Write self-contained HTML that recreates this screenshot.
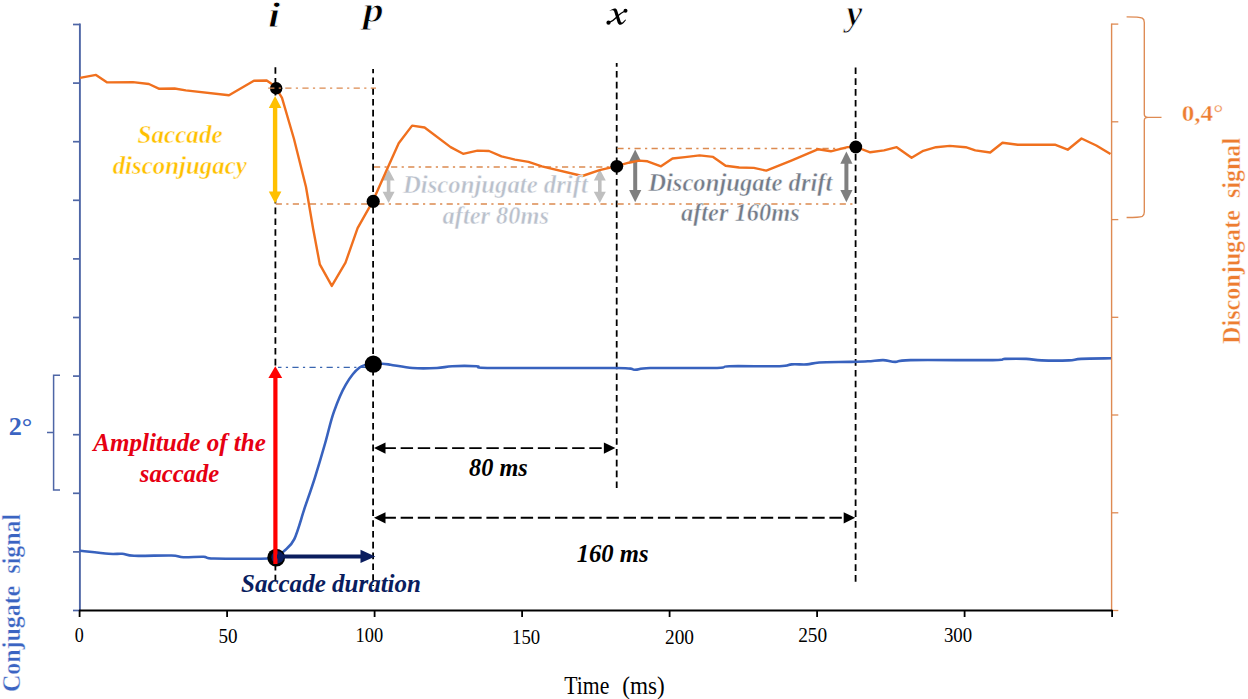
<!DOCTYPE html>
<html><head><meta charset="utf-8"><title>Saccade disconjugacy</title>
<style>
html,body{margin:0;padding:0;background:#fff;}
body{width:1248px;height:699px;overflow:hidden;}
svg{display:block;}
text{font-family:"Liberation Serif",serif;fill:#000;}
.r{font-weight:normal;font-style:normal;}
.bn{font-weight:bold;font-style:normal;stroke:#fff;stroke-width:0.4px;}
.b{font-weight:bold;font-style:normal;}
.bi{font-weight:bold;font-style:italic;}
.bt{font-weight:bold;font-style:italic;stroke:#fff;stroke-width:0.45px;}
.bq{font-weight:bold;font-style:italic;stroke:#fff;stroke-width:0.8px;}
</style></head>
<body>
<svg width="1248" height="699" viewBox="0 0 1248 699">
<rect width="1248" height="699" fill="#fff"/>
<line x1="79.9" y1="23.6" x2="79.9" y2="610.5" stroke="#4E66A6" stroke-width="1.9"/>
<line x1="73" y1="24.5" x2="80" y2="24.5" stroke="#4E66A6" stroke-width="1.7"/>
<line x1="73" y1="83.1" x2="80" y2="83.1" stroke="#4E66A6" stroke-width="1.7"/>
<line x1="73" y1="141.7" x2="80" y2="141.7" stroke="#4E66A6" stroke-width="1.7"/>
<line x1="73" y1="200.3" x2="80" y2="200.3" stroke="#4E66A6" stroke-width="1.7"/>
<line x1="73" y1="258.9" x2="80" y2="258.9" stroke="#4E66A6" stroke-width="1.7"/>
<line x1="73" y1="317.5" x2="80" y2="317.5" stroke="#4E66A6" stroke-width="1.7"/>
<line x1="73" y1="376.1" x2="80" y2="376.1" stroke="#4E66A6" stroke-width="1.7"/>
<line x1="73" y1="434.7" x2="80" y2="434.7" stroke="#4E66A6" stroke-width="1.7"/>
<line x1="73" y1="493.3" x2="80" y2="493.3" stroke="#4E66A6" stroke-width="1.7"/>
<line x1="73" y1="551.9" x2="80" y2="551.9" stroke="#4E66A6" stroke-width="1.7"/>
<line x1="73" y1="610.5" x2="80" y2="610.5" stroke="#4E66A6" stroke-width="1.7"/>
<line x1="1111.6" y1="23.5" x2="1111.6" y2="610.5" stroke="#DE8A52" stroke-width="1.4"/>
<line x1="1111.6" y1="24.1" x2="1118.3" y2="24.1" stroke="#DE8A52" stroke-width="1.3"/>
<line x1="1111.6" y1="121.8" x2="1118.3" y2="121.8" stroke="#DE8A52" stroke-width="1.3"/>
<line x1="1111.6" y1="219.6" x2="1118.3" y2="219.6" stroke="#DE8A52" stroke-width="1.3"/>
<line x1="1111.6" y1="317.3" x2="1118.3" y2="317.3" stroke="#DE8A52" stroke-width="1.3"/>
<line x1="1111.6" y1="415.0" x2="1118.3" y2="415.0" stroke="#DE8A52" stroke-width="1.3"/>
<line x1="1111.6" y1="512.8" x2="1118.3" y2="512.8" stroke="#DE8A52" stroke-width="1.3"/>
<line x1="1111.6" y1="610.5" x2="1118.3" y2="610.5" stroke="#DE8A52" stroke-width="1.3"/>
<line x1="79" y1="610.6" x2="1112.5" y2="610.6" stroke="#000" stroke-width="2"/>
<line x1="79.6" y1="610" x2="79.6" y2="617" stroke="#000" stroke-width="1.8"/>
<line x1="227.1" y1="610" x2="227.1" y2="617" stroke="#000" stroke-width="1.8"/>
<line x1="374.6" y1="610" x2="374.6" y2="617" stroke="#000" stroke-width="1.8"/>
<line x1="522.1" y1="610" x2="522.1" y2="617" stroke="#000" stroke-width="1.8"/>
<line x1="669.6" y1="610" x2="669.6" y2="617" stroke="#000" stroke-width="1.8"/>
<line x1="817.1" y1="610" x2="817.1" y2="617" stroke="#000" stroke-width="1.8"/>
<line x1="964.6" y1="610" x2="964.6" y2="617" stroke="#000" stroke-width="1.8"/>
<line x1="1112.1" y1="610" x2="1112.1" y2="617" stroke="#000" stroke-width="1.8"/>
<path d="M60,375.3 H53.6 V490 H60 M53.6,432.6 H47" fill="none" stroke="#4E66A6" stroke-width="1.5"/>
<text transform="translate(20.3,602.9) rotate(-90)" x="0" y="0" font-size="25" text-anchor="middle" class="bn" style="fill:#3B64C2" xml:space="preserve" textLength="178.3" lengthAdjust="spacingAndGlyphs">Conjugate  signal</text>
<path d="M1126.6,16.9 Q1139.5,16.9 1142.3,18.2 Q1144.3,19.3 1144.3,22.5 V114.2 Q1144.3,117.3 1148,117.3 H1161.5 M1148,117.3 Q1144.3,117.3 1144.3,120.4 V212 Q1144.3,215.3 1142.3,216.3 Q1139.5,217.5 1126.6,217.5" fill="none" stroke="#DE8A52" stroke-width="1.35"/>
<text transform="translate(1240.2,240.9) rotate(-90)" x="0" y="0" font-size="25" text-anchor="middle" class="bn" style="fill:#ED7D31" xml:space="preserve" textLength="206" lengthAdjust="spacingAndGlyphs">Disconjugate  signal</text>
<line x1="275.4" y1="67.2" x2="275.4" y2="582" stroke="#000" stroke-width="1.8" stroke-dasharray="6.6 4.2" stroke-dashoffset="0"/>
<line x1="373.1" y1="68.9" x2="373.1" y2="586" stroke="#000" stroke-width="1.8" stroke-dasharray="6.6 4.2" stroke-dashoffset="2.3"/>
<line x1="616.7" y1="63.1" x2="616.7" y2="490.5" stroke="#000" stroke-width="1.8" stroke-dasharray="6.6 4.2" stroke-dashoffset="2.9"/>
<line x1="855.6" y1="67.5" x2="855.6" y2="585.5" stroke="#000" stroke-width="1.8" stroke-dasharray="6.6 4.2" stroke-dashoffset="0"/>
<line x1="274" y1="204.0" x2="852.5" y2="204.0" stroke="#DC8A50" stroke-width="1.35" stroke-dasharray="6.2 4.35 2.2 4.34" stroke-dashoffset="15.38"/>
<line x1="374" y1="167.0" x2="616" y2="167.0" stroke="#DC8A50" stroke-width="1.35" stroke-dasharray="6.2 4.35 2.2 4.34"/>
<line x1="617.4" y1="148.5" x2="855" y2="148.5" stroke="#DC8A50" stroke-width="1.35" stroke-dasharray="6.2 4.35 2.2 4.34"/>
<line x1="278" y1="367.4" x2="371" y2="367.4" stroke="#3A66B0" stroke-width="1.4" stroke-dasharray="6.2 4.35 2.2 4.34" stroke-dashoffset="2.7"/>
<line x1="388.6" y1="179.5" x2="388.6" y2="192.8" stroke="#BFBFBF" stroke-width="3.6"/><polygon points="388.6,169.3 382.6,180.5 394.6,180.5" fill="#BFBFBF"/><polygon points="388.6,203 382.6,191.8 394.6,191.8" fill="#BFBFBF"/>
<line x1="599.8" y1="179.5" x2="599.8" y2="192.8" stroke="#BFBFBF" stroke-width="3.6"/><polygon points="599.8,169.3 593.8,180.5 605.8,180.5" fill="#BFBFBF"/><polygon points="599.8,203 593.8,191.8 605.8,191.8" fill="#BFBFBF"/>
<line x1="635.2" y1="160.8" x2="635.2" y2="191.0" stroke="#7F7F7F" stroke-width="4"/><polygon points="635.2,149.5 629.1,161.8 641.3000000000001,161.8" fill="#7F7F7F"/><polygon points="635.2,202.3 629.1,190.0 641.3000000000001,190.0" fill="#7F7F7F"/>
<line x1="846.4" y1="162.8" x2="846.4" y2="191.0" stroke="#7F7F7F" stroke-width="4"/><polygon points="846.4,151.5 840.3,163.8 852.5,163.8" fill="#7F7F7F"/><polygon points="846.4,202.3 840.3,190.0 852.5,190.0" fill="#7F7F7F"/>
<polyline points="80.0,77.9 96.0,74.9 107.2,82.4 132.9,82.1 148.9,84.0 159.3,88.8 174.6,88.5 185.8,90.4 229.0,95.3 253.9,80.8 266.7,80.5 274.7,86.0 282.0,97.8 294.0,139.0 306.0,187.0 313.0,228.0 319.8,264.3 331.8,285.9 345.5,262.6 357.6,228.2 373.0,200.8 386.7,169.9 398.7,143.3 412.1,125.6 424.6,127.5 450.6,147.1 463.1,153.8 477.5,150.6 489.0,151.0 501.5,156.3 515.0,159.6 528.5,161.9 541.9,166.3 582.3,176.0 599.6,170.2 616.6,166.1 628.8,162.7 639.2,160.6 647.5,161.3 661.0,166.3 672.5,158.5 685.0,157.1 699.6,155.4 713.1,156.9 725.6,165.8 739.2,167.5 753.8,167.9 766.3,170.6 791.3,160.6 818.3,149.2 830.8,151.3 847.5,147.1 856.0,147.0 870.2,152.3 884.0,150.4 896.7,147.2 911.6,157.8 923.3,150.8 936.0,147.2 949.8,145.9 965.7,147.2 975.3,150.4 990.2,152.5 1002.5,142.7 1017.8,144.8 1054.9,144.6 1067.7,149.7 1081.5,138.5 1096.3,145.5 1110.5,154.0" fill="none" stroke="#F0701E" stroke-width="2.4" stroke-linejoin="round"/>
<path d="M80.0,550.7 C84.8,551.2 101.6,553.3 108.6,553.8 C115.6,554.3 118.0,553.5 122.2,553.8 C126.4,554.1 125.8,555.5 134.0,555.8 C142.2,556.1 163.2,555.3 171.4,555.5 C179.6,555.7 177.9,557.0 183.3,557.2 C188.7,557.4 198.6,556.6 203.7,556.8 C208.8,557.0 203.2,558.2 213.9,558.5 C224.7,558.8 257.8,558.7 268.2,558.5 C278.6,558.3 273.4,558.7 276.0,557.5 C278.6,556.3 280.9,554.3 284.0,551.2 C287.1,548.1 290.9,546.3 294.3,539.1 C297.7,531.9 301.2,518.5 304.6,508.2 C308.1,497.9 311.6,488.2 315.0,477.3 C318.4,466.4 322.1,453.9 325.2,443.0 C328.3,432.1 330.4,421.8 333.8,412.1 C337.2,402.4 341.5,392.0 345.8,384.6 C350.1,377.2 355.0,370.9 359.6,367.5 C364.2,364.1 369.5,364.6 373.3,364.0 C377.1,363.4 379.3,363.7 382.2,363.8 C385.1,363.9 385.4,364.0 390.5,364.7 C395.6,365.4 404.9,367.4 412.6,368.0 C420.4,368.6 430.4,368.3 437.0,368.0 C443.6,367.7 445.6,366.5 452.2,366.2 C458.8,365.9 470.0,365.9 476.6,366.2 C483.2,366.5 468.5,367.7 491.8,368.0 C515.1,368.3 592.8,367.7 616.6,368.0 C640.5,368.3 629.3,369.8 634.9,369.8 C640.5,369.8 636.4,368.3 650.1,368.0 C663.8,367.7 703.9,368.3 717.1,368.0 C730.3,367.7 718.9,366.5 729.3,366.2 C739.7,365.9 769.2,366.5 779.6,366.2 C790.0,365.9 787.2,364.7 791.8,364.4 C796.4,364.1 802.4,364.7 807.0,364.4 C811.6,364.1 812.1,362.9 819.2,362.5 C826.3,362.1 841.5,362.1 849.6,361.9 C857.7,361.7 862.3,361.6 867.9,361.3 C873.5,361.0 878.5,360.0 883.1,360.1 C887.7,360.2 890.7,361.9 895.3,361.9 C899.9,361.9 894.3,360.4 910.5,360.1 C926.7,359.8 977.0,360.3 992.7,360.1 C1008.4,359.9 999.3,359.1 1004.9,358.9 C1010.5,358.7 1020.1,358.6 1026.2,358.9 C1032.3,359.1 1034.4,360.1 1041.5,360.4 C1048.6,360.6 1062.3,360.6 1068.9,360.4 C1075.5,360.1 1074.0,359.2 1081.0,358.9 C1088.0,358.5 1106.0,358.4 1111.0,358.3" fill="none" stroke="#3862BE" stroke-width="2.6" stroke-linejoin="round"/>
<line x1="275.1" y1="107.0" x2="275.1" y2="192.4" stroke="#FFC000" stroke-width="4.4"/><polygon points="275.1,96.0 268.8,108.0 281.40000000000003,108.0" fill="#FFC000"/><polygon points="275.1,203.4 268.8,191.4 281.40000000000003,191.4" fill="#FFC000"/>
<line x1="383.5" y1="448.1" x2="604.9" y2="448.1" stroke="#000" stroke-width="1.9" stroke-dasharray="12.4 4.75"/><polygon points="374,448.1 385.5,442.5 385.5,453.70000000000005" fill="#000"/><polygon points="615.4,448.1 603.9,442.5 603.9,453.70000000000005" fill="#000"/>
<line x1="383.5" y1="517.8" x2="844.7" y2="517.8" stroke="#000" stroke-width="1.9" stroke-dasharray="12.4 4.75"/><polygon points="374,517.8 385.5,512.1999999999999 385.5,523.4" fill="#000"/><polygon points="855.2,517.8 843.7,512.1999999999999 843.7,523.4" fill="#000"/>
<circle cx="276.2" cy="88.3" r="6.2" fill="#000"/>
<circle cx="373.2" cy="201.4" r="6.6" fill="#000"/>
<circle cx="616.8" cy="166.3" r="6.4" fill="#000"/>
<circle cx="855.8" cy="147" r="6.4" fill="#000"/>
<circle cx="373.3" cy="364.2" r="8.6" fill="#000"/>
<circle cx="276.2" cy="557.6" r="8.9" fill="#000"/>
<circle cx="277.6" cy="557.2" r="6.2" fill="#0A1D5E"/>
<line x1="268.2" y1="88.1" x2="376" y2="88.1" stroke="#DC8A50" stroke-width="1.35" stroke-dasharray="6.2 4.35 2.2 4.34"/>
<line x1="275.4" y1="377" x2="275.4" y2="564" stroke="#FF0000" stroke-width="4.2"/>
<polygon points="275.3,366.3 268.4,378 282.2,378" fill="#FF0000"/>
<line x1="277" y1="556.4" x2="362" y2="556.4" stroke="#0A1D5E" stroke-width="4"/>
<polygon points="375.3,556.4 360.5,549.8 360.5,563" fill="#0A1D5E"/>
<text id="k0" x="79.20" y="642.4" font-size="20.6" text-anchor="middle" class="r" style="fill:#000" xml:space="preserve" textLength="9.00" lengthAdjust="spacingAndGlyphs">0</text>
<text id="k50" x="228.10" y="642.5" font-size="20.6" text-anchor="middle" class="r" style="fill:#000" xml:space="preserve" textLength="19.09" lengthAdjust="spacingAndGlyphs">50</text>
<text id="k100" x="369.40" y="642.4" font-size="20.6" text-anchor="middle" class="r" style="fill:#000" xml:space="preserve" textLength="27.59" lengthAdjust="spacingAndGlyphs">100</text>
<text id="k150" x="526.10" y="643.9" font-size="20.6" text-anchor="middle" class="r" style="fill:#000" xml:space="preserve" textLength="28.09" lengthAdjust="spacingAndGlyphs">150</text>
<text id="k200" x="679.50" y="643.9" font-size="20.6" text-anchor="middle" class="r" style="fill:#000" xml:space="preserve" textLength="28.99" lengthAdjust="spacingAndGlyphs">200</text>
<text id="k250" x="812.70" y="642.4" font-size="20.6" text-anchor="middle" class="r" style="fill:#000" xml:space="preserve" textLength="28.99" lengthAdjust="spacingAndGlyphs">250</text>
<text id="k300" x="958.00" y="642.4" font-size="20.6" text-anchor="middle" class="r" style="fill:#000" xml:space="preserve" textLength="28.19" lengthAdjust="spacingAndGlyphs">300</text>
<text id="t_i" x="274.20" y="26.5" font-size="36" text-anchor="middle" class="bq" style="fill:#000" xml:space="preserve" textLength="12.22" lengthAdjust="spacingAndGlyphs">i</text>
<text id="t_p" x="373.20" y="22.0" font-size="36" text-anchor="middle" class="bq" style="fill:#000" xml:space="preserve" textLength="20.60" lengthAdjust="spacingAndGlyphs">p</text>
<text id="t_y" x="854.40" y="25.2" font-size="36" text-anchor="middle" class="bq" style="fill:#000" xml:space="preserve" textLength="15.78" lengthAdjust="spacingAndGlyphs">y</text>
<text id="sac1" x="180.10" y="142.7" font-size="25" text-anchor="middle" class="bt" style="fill:#FFC000" xml:space="preserve" textLength="85.10" lengthAdjust="spacingAndGlyphs">Saccade</text>
<text id="sac2" x="179.70" y="174.0" font-size="25" text-anchor="middle" class="bt" style="fill:#FFC000" xml:space="preserve" textLength="134.12" lengthAdjust="spacingAndGlyphs">disconjugacy</text>
<text id="dl1" x="495.40" y="193.0" font-size="24.5" text-anchor="middle" class="bt" style="fill:#B9C0CB" xml:space="preserve" textLength="184.99" lengthAdjust="spacingAndGlyphs">Disconjugate drift</text>
<text id="dl2" x="495.80" y="224.1" font-size="24.5" text-anchor="middle" class="bt" style="fill:#B9C0CB" xml:space="preserve" textLength="106.44" lengthAdjust="spacingAndGlyphs">after 80ms</text>
<text id="dd1" x="740.30" y="190.5" font-size="24.5" text-anchor="middle" class="bt" style="fill:#737B88" xml:space="preserve" textLength="184.29" lengthAdjust="spacingAndGlyphs">Disconjugate drift</text>
<text id="dd2" x="740.30" y="221.1" font-size="24.5" text-anchor="middle" class="bt" style="fill:#737B88" xml:space="preserve" textLength="118.69" lengthAdjust="spacingAndGlyphs">after 160ms</text>
<text id="am1" x="179.50" y="451.3" font-size="25" text-anchor="middle" class="bi" style="fill:#E60012" xml:space="preserve" textLength="172.53" lengthAdjust="spacingAndGlyphs">Amplitude of the</text>
<text id="am2" x="179.50" y="482.2" font-size="25" text-anchor="middle" class="bi" style="fill:#E60012" xml:space="preserve" textLength="79.43" lengthAdjust="spacingAndGlyphs">saccade</text>
<text id="sd" x="331.00" y="592.4" font-size="25" text-anchor="middle" class="bi" style="fill:#0A1D5E" xml:space="preserve" textLength="179.97" lengthAdjust="spacingAndGlyphs">Saccade duration</text>
<text id="m80" x="498.40" y="476.4" font-size="24.5" text-anchor="middle" class="bi" style="fill:#000" xml:space="preserve" textLength="58.62" lengthAdjust="spacingAndGlyphs">80 ms</text>
<text id="m160" x="612.60" y="561.5" font-size="24.5" text-anchor="middle" class="bi" style="fill:#000" xml:space="preserve" textLength="71.87" lengthAdjust="spacingAndGlyphs">160 ms</text>
<text id="time1" x="586.80" y="693.8" font-size="25.5" text-anchor="middle" class="r" style="fill:#000" xml:space="preserve" textLength="45.02" lengthAdjust="spacingAndGlyphs">Time</text>
<text id="time2" x="643.50" y="693.8" font-size="25.5" text-anchor="middle" class="r" style="fill:#000" xml:space="preserve" textLength="42.45" lengthAdjust="spacingAndGlyphs">(ms)</text>
<text id="deg04" x="1202.50" y="120.8" font-size="24" text-anchor="middle" class="bn" style="fill:#ED7D31" xml:space="preserve" textLength="41.61" lengthAdjust="spacingAndGlyphs">0,4°</text>
<text id="deg2" x="20.50" y="434.6" font-size="26" text-anchor="middle" class="b" style="fill:#3B64C2" xml:space="preserve" textLength="23.61" lengthAdjust="spacingAndGlyphs">2°</text>
<path d="M609.6,10.7 Q611.5,9.3 614.2,8.6 C615.6,8.3 616.6,8.8 617.1,10.2 L620.6,21.2 C621.0,22.4 621.7,22.8 622.6,22.2 L625.4,19.4 L626.0,20.0 C624.3,22.6 622.5,24.7 620.6,24.8 C618.9,24.9 618.0,23.6 617.5,22.2 L614.2,11.6 C613.8,10.4 612.8,10.1 611.8,10.3 Q610.6,10.6 609.8,11.1 Z" fill="#000"/>
<path d="M625.2,11.2 C622.2,12.2 619.2,14.6 616.6,17.2 C614.2,19.6 611.6,21.6 609.4,22.4" fill="none" stroke="#000" stroke-width="1.4"/>
<circle cx="625.5" cy="10.7" r="2.0" fill="#000"/><circle cx="608.5" cy="22.7" r="2.1" fill="#000"/>
</svg>
</body></html>
